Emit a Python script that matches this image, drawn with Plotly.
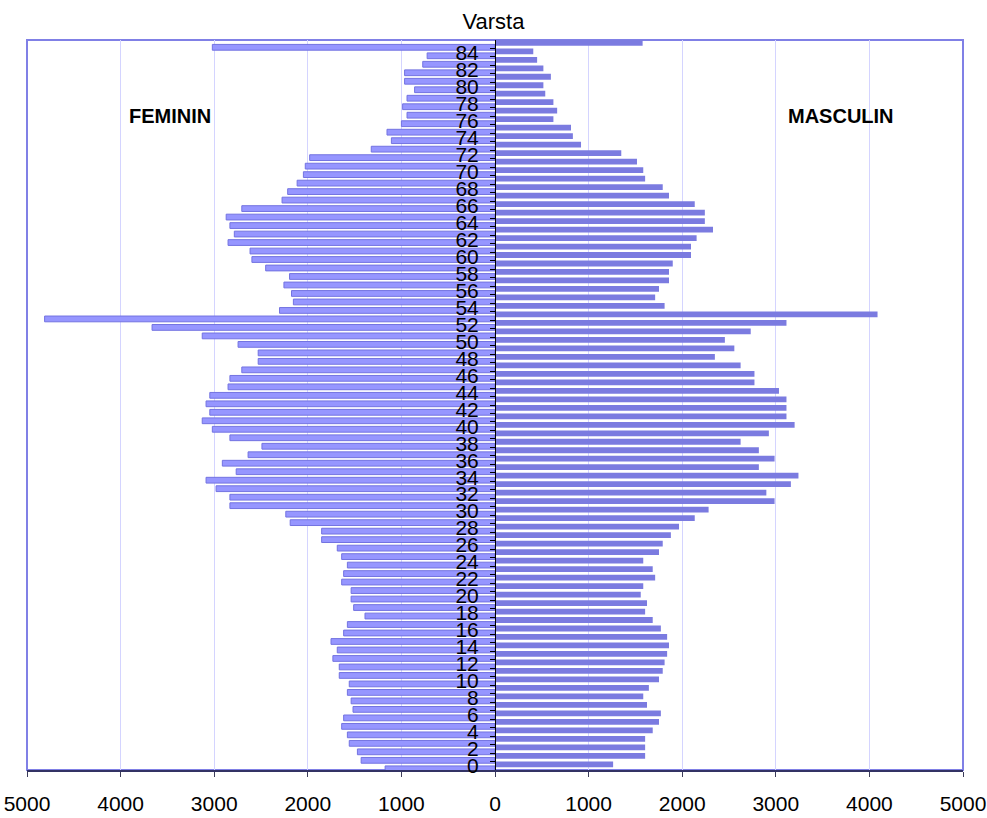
import plotly.graph_objects as go

ages = list(range(86))
tick_ages = list(range(0, 85, 2))

feminin = [1174, 1430, 1470, 1557, 1577, 1638, 1617, 1517, 1537, 1577,
           1557, 1664, 1664, 1732, 1685, 1752, 1617, 1577, 1389, 1510,
           1537, 1537, 1638, 1617, 1577, 1638, 1685, 1852, 1852, 2188,
           2235, 2832, 2832, 2980, 3087, 2765, 2913, 2638, 2490, 2832,
           3020, 3128, 3047, 3087, 3047, 2852, 2832, 2705, 2530, 2530,
           2745, 3128, 3664, 4812, 2302, 2154, 2174, 2255, 2195, 2450,
           2597, 2617, 2852, 2785, 2832, 2872, 2705, 2275, 2215, 2114,
           2047, 2027, 1980, 1322, 1107, 1154, 1000, 940, 987, 940,
           859, 966, 966, 772, 725, 3020]

masculin = [1262, 1604, 1604, 1604, 1685, 1752, 1772, 1624, 1584, 1644,
            1752, 1792, 1812, 1839, 1859, 1839, 1772, 1685, 1604, 1624,
            1557, 1584, 1711, 1685, 1584, 1752, 1792, 1879, 1966, 2134,
            2282, 2987, 2899, 3161, 3242, 2819, 2987, 2819, 2624, 2926,
            3201, 3114, 3114, 3114, 3034, 2772, 2772, 2624, 2349, 2557,
            2456, 2732, 3114, 4087, 1812, 1711, 1752, 1859, 1859, 1899,
            2094, 2094, 2154, 2329, 2242, 2242, 2134, 1859, 1792, 1604,
            1584, 1517, 1349, 919, 832, 812, 624, 664, 624, 537,
            517, 597, 517, 450, 409, 1577]

x_ticks = [-5000, -4000, -3000, -2000, -1000, 0, 1000, 2000, 3000, 4000, 5000]
x_ticktext = [str(abs(v)) for v in x_ticks]

FONT = "Arial, Liberation Sans, sans-serif"

fig = go.Figure()
fig.add_trace(go.Bar(
    y=ages, x=[-v for v in feminin], orientation="h", name="FEMININ",
    width=0.68, offset=-0.70,
    marker=dict(color="rgb(150,150,255)", line=dict(color="rgb(115,115,225)", width=1)),
    showlegend=False, hoverinfo="skip",
))
fig.add_trace(go.Bar(
    y=ages, x=masculin, orientation="h", name="MASCULIN",
    width=0.68, offset=-0.17,
    marker=dict(color="rgb(123,123,224)", line=dict(width=0)),
    showlegend=False, hoverinfo="skip",
))

fig.update_layout(
    width=987, height=818,
    margin=dict(l=27, r=24, t=40, b=48, autoexpand=False),
    paper_bgcolor="white", plot_bgcolor="white",
    barmode="overlay",
    font=dict(family=FONT, color="black"),
    title=dict(text="Varsta", x=0.5, xref="container", xanchor="center",
               y=1 - 21.5 / 818, yanchor="middle", yref="container",
               font=dict(size=22, family=FONT, color="black")),
    xaxis=dict(range=[-5000, 5000], tickvals=x_ticks, ticktext=x_ticktext,
               showgrid=True, gridcolor="rgb(212,212,255)", gridwidth=1,
               zeroline=False, showline=True, linecolor="rgb(50,50,100)", linewidth=2,
               ticks="outside", ticklen=5, tickcolor="rgb(60,60,90)",
               tickfont=dict(size=21, family=FONT, color="black"),
               ticklabelstandoff=9, fixedrange=True, automargin=False),
    yaxis=dict(range=[-0.5, 85.5], anchor="free", position=0.5,
               tickvals=tick_ages, ticktext=[str(a) for a in tick_ages],
               showgrid=False, zeroline=False, showline=True,
               linecolor="black", linewidth=1,
               ticks="outside", ticklen=0,
               minor=dict(tickvals=[a + 0.5 for a in ages[:-1]], ticks="outside",
                          ticklen=5, tickcolor="black", showgrid=False),
               tickfont=dict(size=21, family=FONT, color="black"),
               ticklabelstandoff=12, fixedrange=True, automargin=False),
    shapes=[dict(type="rect", xref="paper", yref="paper", x0=0, x1=1, y0=0, y1=1,
                 line=dict(color="rgb(128,128,230)", width=2), layer="below")],
    annotations=[
        dict(text="<b>FEMININ</b>", x=0.153, y=0.896, xref="paper", yref="paper",
             xanchor="center", yanchor="middle",
             showarrow=False, font=dict(size=20, family=FONT, color="black")),
        dict(text="<b>MASCULIN</b>", x=0.870, y=0.896, xref="paper", yref="paper",
             xanchor="center", yanchor="middle",
             showarrow=False, font=dict(size=20, family=FONT, color="black")),
    ],
)

fig.write_html(
    "out.html",
    config={"displayModeBar": False},
    post_script="document.body.style.margin='0';document.body.style.overflow='hidden';",
)
